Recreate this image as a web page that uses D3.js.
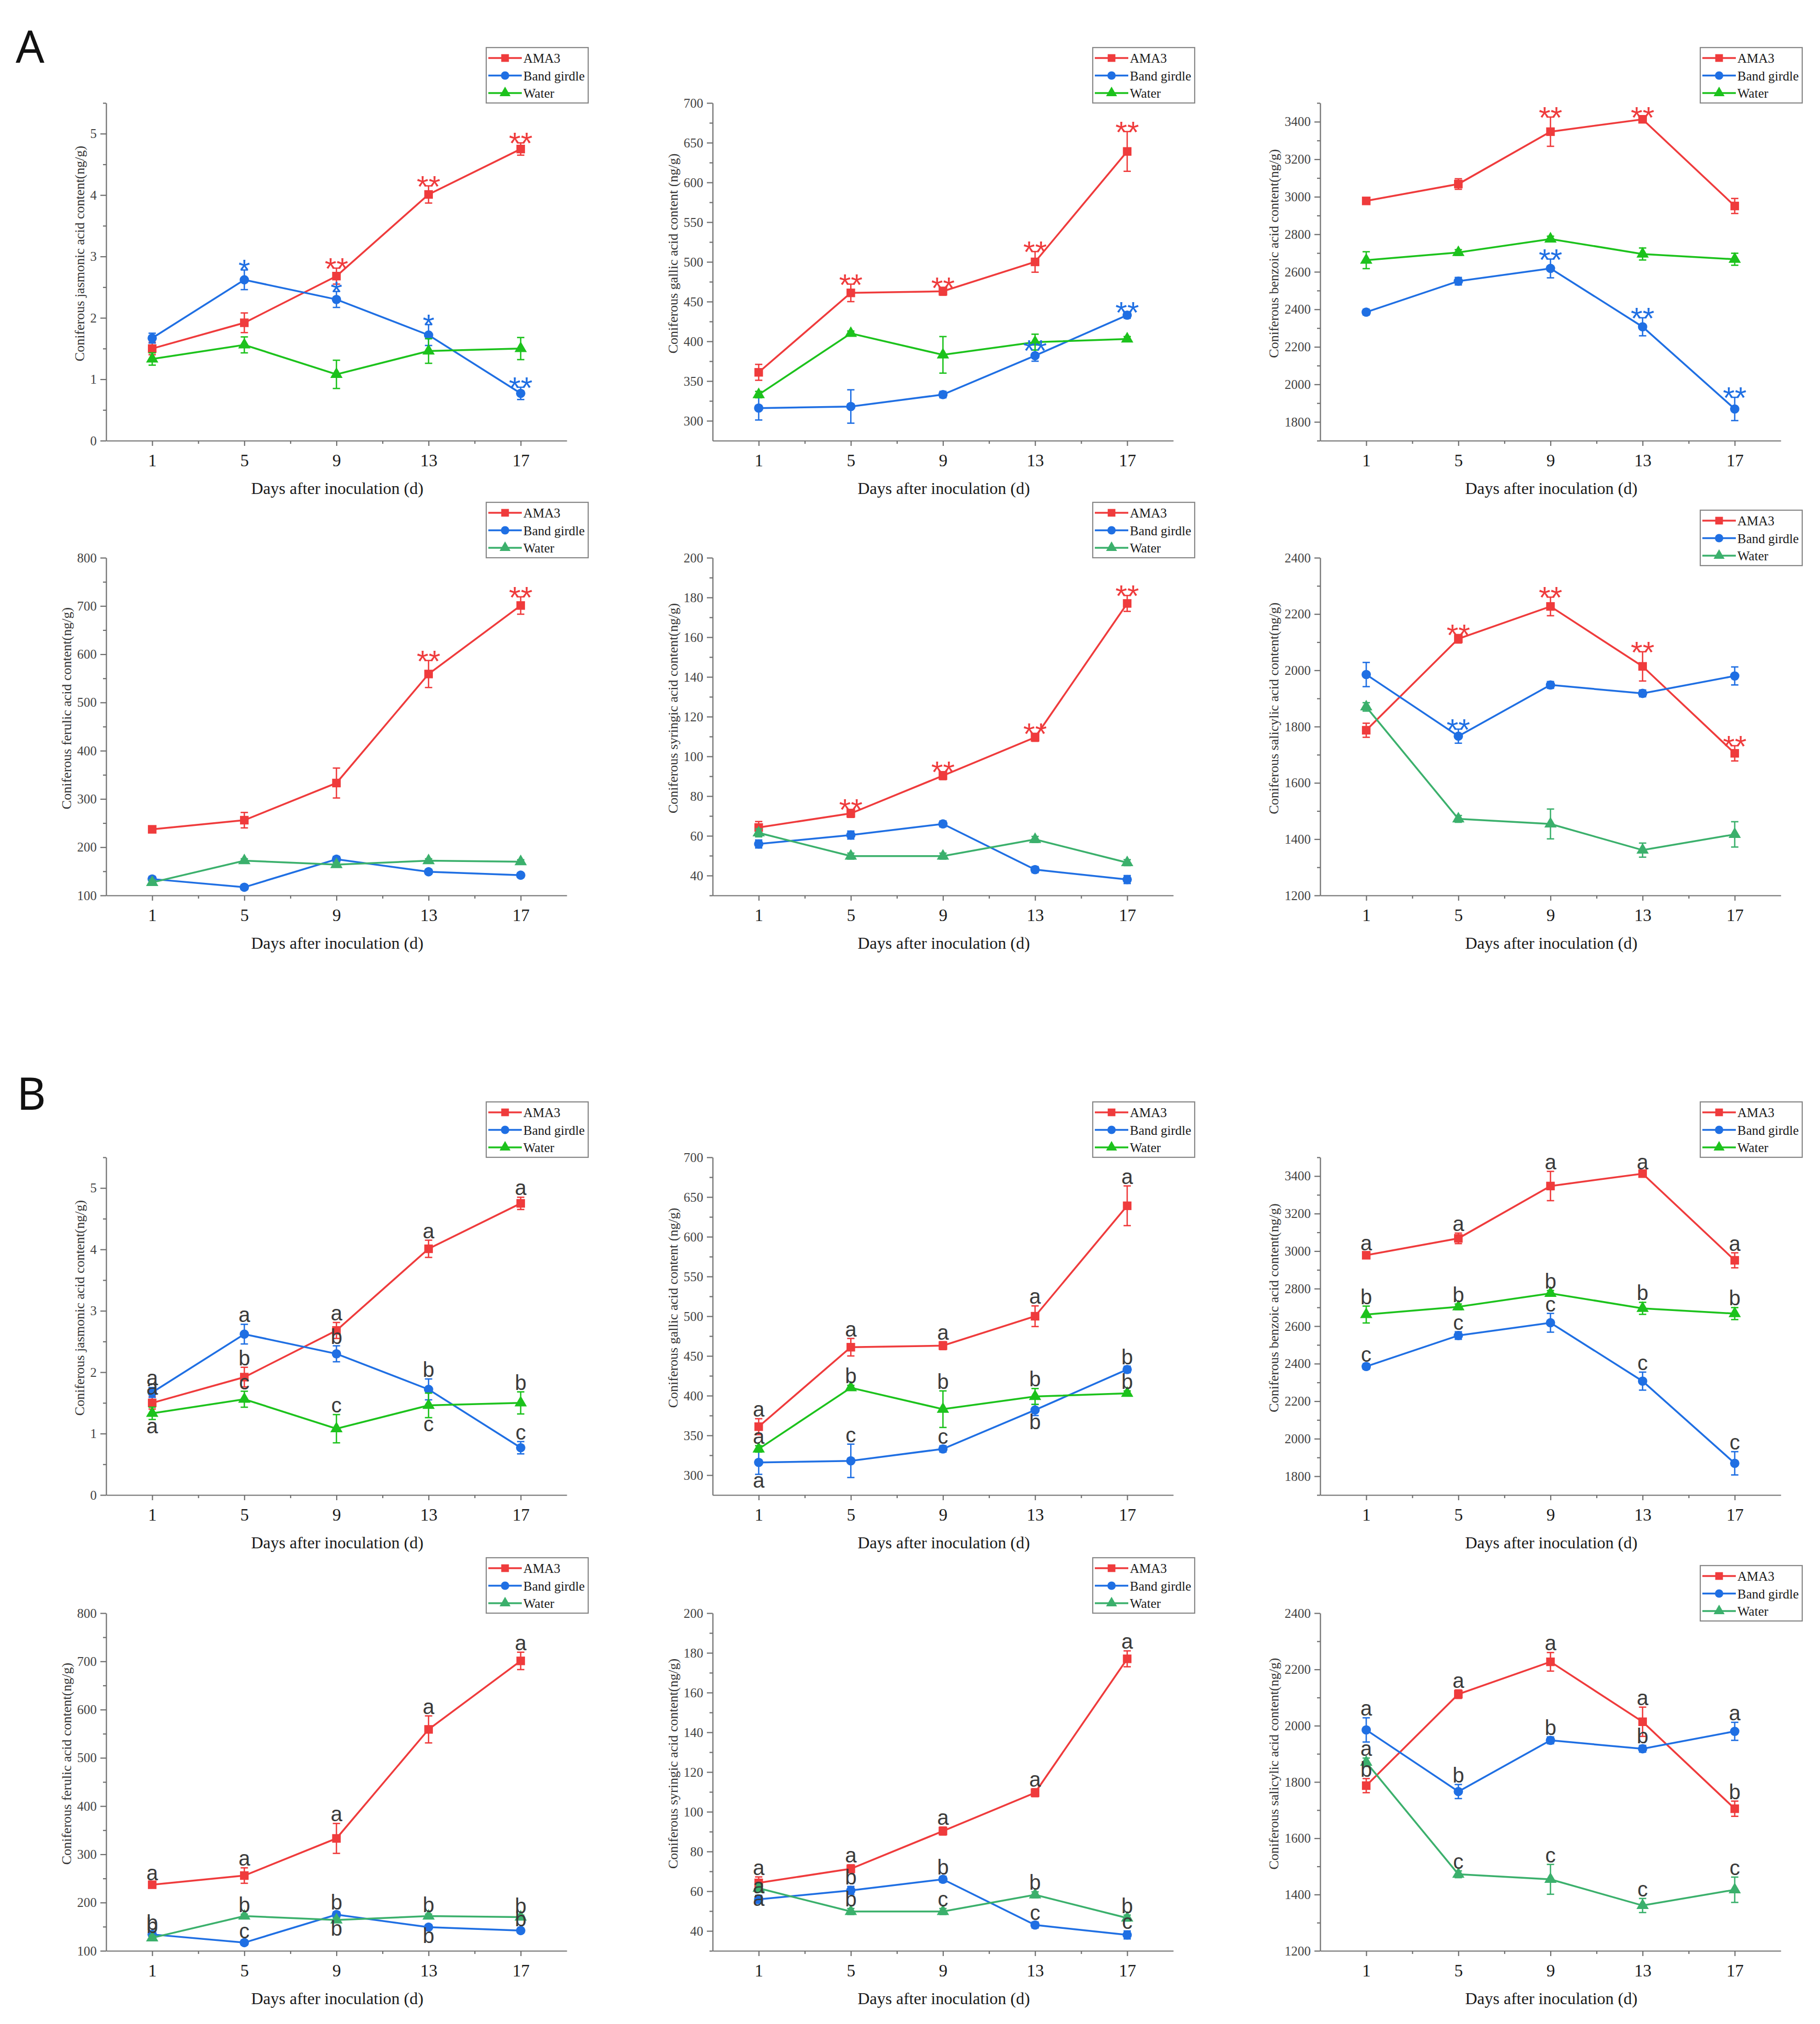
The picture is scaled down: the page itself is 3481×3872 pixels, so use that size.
<!DOCTYPE html>
<html>
<head>
<meta charset="utf-8">
<script src="https://cdn.jsdelivr.net/npm/d3@7"></script>
<style>
body { margin: 0; background: #fff; }
</style>
</head>
<body>
<svg></svg>
<script>
const width = 3481;
const height = 3872;

const days = [1, 5, 9, 13, 17];
const seriesNames = ["AMA3", "Band girdle", "Water"];

// jasmonic acid
const jaMean = [[1.50, 1.92, 2.68, 4.01, 4.75], [1.67, 2.62, 2.30, 1.72, 0.77], [1.33, 1.56, 1.08, 1.46, 1.50]];
const jaErr = [[0.10, 0.16, 0.13, 0.14, 0.10], [0.08, 0.16, 0.13, 0.17, 0.10], [0.10, 0.13, 0.23, 0.20, 0.18]];
const jaStars = [["", "", "**", "**", "**"], ["", "*", "*", "*", "**"], ["", "", "", "", ""]];
const jaLetters = ["abaaa", "aabbc", "acccb"];
const jaPos = ["uuuuu", "uuuuu", "duudu"];

// gallic acid
const gaMean = [[361, 461, 463, 500, 639], [316, 318, 333, 382, 433], [333, 410, 383, 399, 403]];
const gaErr = [[10, 11, 5, 13, 25], [15, 21, 4, 7, 4], [4, 3, 23, 10, 3]];
const gaStars = [["", "**", "**", "**", "**"], ["", "", "", "**", "**"], ["", "", "", "", ""]];
const gaLetters = ["aaaaa", "accbb", "abbbb"];
const gaPos = ["uuuuu", "duudu", "uuuuu"];

// benzoic acid
const beMean = [[2978, 3068, 3347, 3413, 2951], [2385, 2550, 2618, 2307, 1869], [2662, 2703, 2775, 2695, 2667]];
const beErr = [[15, 28, 78, 12, 40], [15, 20, 50, 48, 62], [45, 15, 15, 32, 32]];
const beStars = [["", "", "**", "**", ""], ["", "", "**", "**", "**"], ["", "", "", "", ""]];
const beLetters = ["aaaaa", "ccccc", "bbbbb"];
const bePos = ["uuuuu", "uuuuu", "uuuuu"];

// ferulic acid
const feMean = [[237, 256, 333, 559, 701], [134, 117, 175, 149, 142], [127, 172, 164, 172, 170]];
const feErr = [[5, 16, 31, 28, 18], [5, 5, 6, 5, 5], [5, 4, 4, 4, 4]];
const feStars = [["", "", "", "**", "**"], ["", "", "", "", ""], ["", "", "", "", ""]];
const feLetters = ["aaaaa", "bcbbb", "bbbbb"];
const fePos = ["uuuuu", "uuudu", "uuduu"];

// syringic acid
const syMean = [[64.2, 71.3, 90.3, 109.6, 177.0], [55.9, 60.4, 66.0, 43.0, 38.0], [61.5, 49.8, 49.8, 58.2, 46.5]];
const syErr = [[3, 2, 2, 2, 4], [2, 2, 1.5, 1.5, 2], [2, 1.5, 1.5, 1.5, 1.5]];
const syStars = [["", "**", "**", "**", "**"], ["", "", "", "", ""], ["", "", "", "", ""]];
const syLetters = ["aaaaa", "abbcc", "abcbb"];
const syPos = ["uuuuu", "uuuuu", "duuuu"];

// salicylic acid
const saMean = [[1787, 2112, 2227, 2014, 1705], [1985, 1766, 1948, 1918, 1980], [1870, 1472, 1454, 1361, 1417]];
const saErr = [[25, 15, 33, 52, 27], [43, 25, 12, 12, 32], [15, 12, 53, 25, 45]];
const saStars = [["", "**", "**", "**", "**"], ["", "**", "", "", ""], ["", "", "", "", ""]];
const saLetters = ["baaab", "abbba", "acccc"];
const saPos = ["uuuuu", "uuuuu", "uuuuu"];

const red = "#ef3b3c";
const blue = "#1f6fe3";
const greenA = "#1cc21c";
const greenB = "#3bb06c";

const panels = [
	{ label: "Coniferous jasmonic acid content(ng/g)", mean: jaMean, err: jaErr, stars: jaStars, letters: jaLetters, pos: jaPos,
	  domain: [0, 5.5], ticks: d3.range(0, 5.1, 1), minor: d3.range(0.5, 5.6, 1), col: 0, row: 0, green: greenA, legendDy: 0 },
	{ label: "Coniferous gallic acid content (ng/g)", mean: gaMean, err: gaErr, stars: gaStars, letters: gaLetters, pos: gaPos,
	  domain: [275, 700], ticks: d3.range(300, 701, 50), minor: d3.range(325, 700, 50), col: 1, row: 0, green: greenA, legendDy: 0 },
	{ label: "Coniferous benzoic acid content(ng/g)", mean: beMean, err: beErr, stars: beStars, letters: beLetters, pos: bePos,
	  domain: [1700, 3500], ticks: d3.range(1800, 3401, 200), minor: d3.range(1700, 3501, 200), col: 2, row: 0, green: greenA, legendDy: 0 },
	{ label: "Coniferous ferulic acid content(ng/g)", mean: feMean, err: feErr, stars: feStars, letters: feLetters, pos: fePos,
	  domain: [100, 800], ticks: d3.range(100, 801, 100), minor: d3.range(150, 800, 100), col: 0, row: 1, green: greenB, legendDy: 0 },
	{ label: "Coniferous syringic acid content(ng/g)", mean: syMean, err: syErr, stars: syStars, letters: syLetters, pos: syPos,
	  domain: [30, 200], ticks: d3.range(40, 201, 20), minor: d3.range(30, 200, 20), col: 1, row: 1, green: greenB, legendDy: 0 },
	{ label: "Coniferous salicylic acid content(ng/g)", mean: saMean, err: saErr, stars: saStars, letters: saLetters, pos: saPos,
	  domain: [1200, 2400], ticks: d3.range(1200, 2401, 200), minor: d3.range(1300, 2400, 200), col: 2, row: 1, green: greenB, legendDy: 15 }
];

const colLeft = [203, 1363, 2525];
const rowTop = [197, 1067, 2214, 3086];
const plotW = 881;
const plotH = 646;

const svg = d3.select("svg").attr("width", width).attr("height", height);
svg.append("rect").attr("width", width).attr("height", height).attr("fill", "#fff");

const symTypes = [d3.symbolSquare, d3.symbolCircle, d3.symbolTriangle];
const symSizes = [270, 250, 240];
const serif = "'Liberation Serif', 'Times New Roman', serif";
const sans = "'Liberation Sans', Arial, sans-serif";

function styleAxis(a) {
	a.select(".domain").attr("stroke", "#6e6e6e").attr("stroke-width", 2.2);
	a.selectAll(".tick line").attr("stroke", "#6e6e6e").attr("stroke-width", 2.2);
}

function drawPanel(p, row, mode) {
	const g = svg.append("g").attr("transform", `translate(${colLeft[p.col]},${rowTop[row]})`);
	const x = d3.scaleLinear().domain([-1, 19]).range([0, plotW]);
	const y = d3.scaleLinear().domain(p.domain).range([plotH, 0]);
	const colors = [red, blue, p.green];

	// x axis
	const xa = g.append("g").attr("transform", `translate(0,${plotH})`)
		.call(d3.axisBottom(x).tickValues(days).tickSize(10).tickSizeOuter(0).tickPadding(16));
	xa.selectAll("text").attr("font-family", serif).attr("font-size", 33).attr("fill", "#1a1a1a");
	styleAxis(xa);
	const xm = g.append("g").attr("transform", `translate(0,${plotH})`)
		.call(d3.axisBottom(x).tickValues([3, 7, 11, 15]).tickSize(6).tickFormat(""));
	xm.select(".domain").remove();
	styleAxis(xm);

	// y axis
	const ya = g.append("g")
		.call(d3.axisLeft(y).tickValues(p.ticks).tickSize(11).tickSizeOuter(0).tickPadding(7).tickFormat(d3.format("d")));
	ya.selectAll("text").attr("font-family", serif).attr("font-size", 25).attr("fill", "#444");
	styleAxis(ya);
	const ym = g.append("g")
		.call(d3.axisLeft(y).tickValues(p.minor).tickSize(6).tickFormat(""));
	ym.select(".domain").remove();
	styleAxis(ym);

	let maxW = 0;
	ya.selectAll("text").each(function () { maxW = Math.max(maxW, this.getComputedTextLength()); });

	g.append("text")
		.attr("transform", `translate(${-(18 + maxW + 12)},${plotH / 2 - 35}) rotate(-90)`)
		.attr("text-anchor", "middle")
		.attr("font-family", serif)
		.attr("font-size", 26)
		.attr("fill", "#333")
		.text(p.label);

	g.append("text")
		.attr("x", 442)
		.attr("y", plotH + 102)
		.attr("text-anchor", "middle")
		.attr("font-family", serif)
		.attr("font-size", 32)
		.attr("fill", "#1a1a1a")
		.text("Days after inoculation (d)");

	// series
	const line = d3.line().x((d, i) => x(days[i])).y((d) => y(d));
	p.mean.forEach((vals, s) => {
		const sg = g.append("g");
		sg.append("path")
			.attr("d", line(vals))
			.attr("fill", "none")
			.attr("stroke", colors[s])
			.attr("stroke-width", 3.5);

		const eb = sg.selectAll(".eb").data(vals).enter().append("g");
		eb.append("line")
			.attr("x1", (d, i) => x(days[i])).attr("x2", (d, i) => x(days[i]))
			.attr("y1", (d, i) => y(d - p.err[s][i])).attr("y2", (d, i) => y(d + p.err[s][i]));
		eb.append("line")
			.attr("x1", (d, i) => x(days[i]) - 7).attr("x2", (d, i) => x(days[i]) + 7)
			.attr("y1", (d, i) => y(d + p.err[s][i])).attr("y2", (d, i) => y(d + p.err[s][i]));
		eb.append("line")
			.attr("x1", (d, i) => x(days[i]) - 7).attr("x2", (d, i) => x(days[i]) + 7)
			.attr("y1", (d, i) => y(d - p.err[s][i])).attr("y2", (d, i) => y(d - p.err[s][i]));
		eb.selectAll("line").attr("stroke", colors[s]).attr("stroke-width", 2.6);

		sg.selectAll(".mk").data(vals).enter().append("path")
			.attr("d", d3.symbol().type(symTypes[s]).size(symSizes[s]))
			.attr("transform", (d, i) => `translate(${x(days[i])},${y(d)})`)
			.attr("fill", colors[s]);
	});

	// annotations: stars in A, letters in B
	p.mean.forEach((vals, s) => {
		vals.forEach((d, i) => {
			const top = y(d + p.err[s][i]);
			const bot = y(d - p.err[s][i]);
			if (mode === "A") {
				const st = p.stars[s][i];
				if (!st) return;
				g.append("text")
					.attr("x", x(days[i]))
					.attr("y", top + 21)
					.attr("text-anchor", "middle")
					.attr("font-family", sans)
					.attr("font-size", 58)
					.attr("fill", colors[s])
					.text(st);
			} else {
				const up = p.pos[s][i] === "u";
				g.append("text")
					.attr("x", x(days[i]))
					.attr("y", up ? top - 4 : bot + 26)
					.attr("text-anchor", "middle")
					.attr("font-family", sans)
					.attr("font-size", 40)
					.attr("fill", "#3a3a3a")
					.text(p.letters[s][i]);
			}
		});
	});

	// legend
	const lg = g.append("g").attr("transform", `translate(727,${-106 + p.legendDy})`);
	lg.append("rect")
		.attr("width", 195).attr("height", 106)
		.attr("fill", "#fff")
		.attr("stroke", "#888").attr("stroke-width", 2.2);
	seriesNames.forEach((name, s) => {
		const ry = 20 + s * 33.5;
		lg.append("line")
			.attr("x1", 4).attr("x2", 68).attr("y1", ry).attr("y2", ry)
			.attr("stroke", colors[s]).attr("stroke-width", 3.5);
		lg.append("path")
			.attr("d", d3.symbol().type(symTypes[s]).size(symSizes[s] * 0.8))
			.attr("transform", `translate(36,${ry})`)
			.attr("fill", colors[s]);
		lg.append("text")
			.attr("x", 71).attr("y", ry + 9)
			.attr("font-family", serif)
			.attr("font-size", 25)
			.attr("fill", "#1a1a1a")
			.text(name);
	});
}

panels.forEach((p) => {
	drawPanel(p, p.row, "A");
	drawPanel(p, p.row + 2, "B");
});

svg.append("text").attr("x", 30).attr("y", 120)
	.attr("font-family", "'Noto Sans', sans-serif").attr("font-size", 86).attr("fill", "#111").text("A");
svg.append("text").attr("x", 32).attr("y", 2123)
	.attr("font-family", "'Noto Sans', sans-serif").attr("font-size", 86).attr("fill", "#111").text("B");
</script>
</body>
</html>
